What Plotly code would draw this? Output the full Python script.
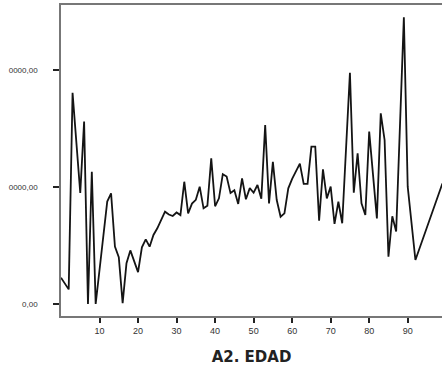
import plotly.graph_objects as go

# Mean value by age (A2. EDAD)
edad = [0, 2, 3, 4, 5, 6, 7, 8, 9, 12, 13, 14, 15, 16, 17, 18, 19, 20,
        21, 22, 23, 24, 25, 26, 27, 28, 29, 30, 31, 32, 33, 34, 35, 36, 37, 38, 39,
        40, 41, 42, 43, 44, 45, 46, 47, 48, 49, 50, 51, 52, 53, 54, 55, 56, 57, 58, 59,
        60, 61, 62, 63, 64, 65, 66, 67, 68, 69, 70, 71, 72, 73, 75, 76, 77, 78, 79,
        80, 82, 83, 84, 85, 86, 87, 89, 90, 92, 99]
valor = [2250, 1250, 18050, 14000, 9500, 15600, 0, 11300, 0, 8750, 9450, 4900, 4000, 80, 3480, 4580, 3600, 2720,
         4850, 5530, 4900, 5900, 6470, 7240, 7890, 7650, 7520, 7820, 7600, 10450, 7750, 8580, 8900, 10030, 8180, 8400, 12450,
         8350, 9030, 11100, 10900, 9480, 9720, 8550, 10740, 8950, 9900, 9510, 10170, 9000, 15300, 8600, 12150, 8890, 7460, 7750, 9890,
         10700, 11300, 12000, 10260, 10260, 13450, 13450, 7120, 11510, 9030, 10030, 6840, 8740, 6900, 19770, 9510, 12880, 8600, 7600,
         14730, 7320, 16300, 14020, 4040, 7500, 6200, 24500, 10030, 3760, 10300]

tick_vals = [0, 10000, 20000]
tick_text = ["0,00", "0000,00", "0000,00"]
x_ticks = [10, 20, 30, 40, 50, 60, 70, 80, 90]

fig = go.Figure(go.Scatter(
    x=edad, y=valor, mode="lines",
    line=dict(color="#141414", width=1.8),
    hoverinfo="skip",
))

fig.update_layout(
    width=442, height=366,
    margin=dict(l=61, r=0, t=5, b=50),
    paper_bgcolor="white", plot_bgcolor="white",
    showlegend=False,
    font=dict(family="Liberation Sans, Arial, sans-serif", color="#333"),
)

fig.update_xaxes(
    range=[0, 98.9],
    tickvals=x_ticks,
    ticks="outside", ticklen=5, tickwidth=2, tickcolor="#222",
    tickfont=dict(size=9, color="#333"),
    showline=True, linecolor="#777", linewidth=1.5, mirror=True,
    showgrid=False, zeroline=False,
    title=dict(text="<b>A2. EDAD</b>",
               font=dict(family="DejaVu Sans, sans-serif", size=15, color="#222"),
               standoff=17),
)

fig.update_yaxes(
    range=[-1026, 25556],
    tickvals=tick_vals, ticktext=tick_text,
    ticks="outside", ticklen=6, tickwidth=2, tickcolor="#222",
    tickfont=dict(size=8, color="#333"),
    ticklabelstandoff=14,
    showline=True, linecolor="#777", linewidth=1.5, mirror=False,
    showgrid=False, zeroline=False,
)

fig.write_html("out.html")
